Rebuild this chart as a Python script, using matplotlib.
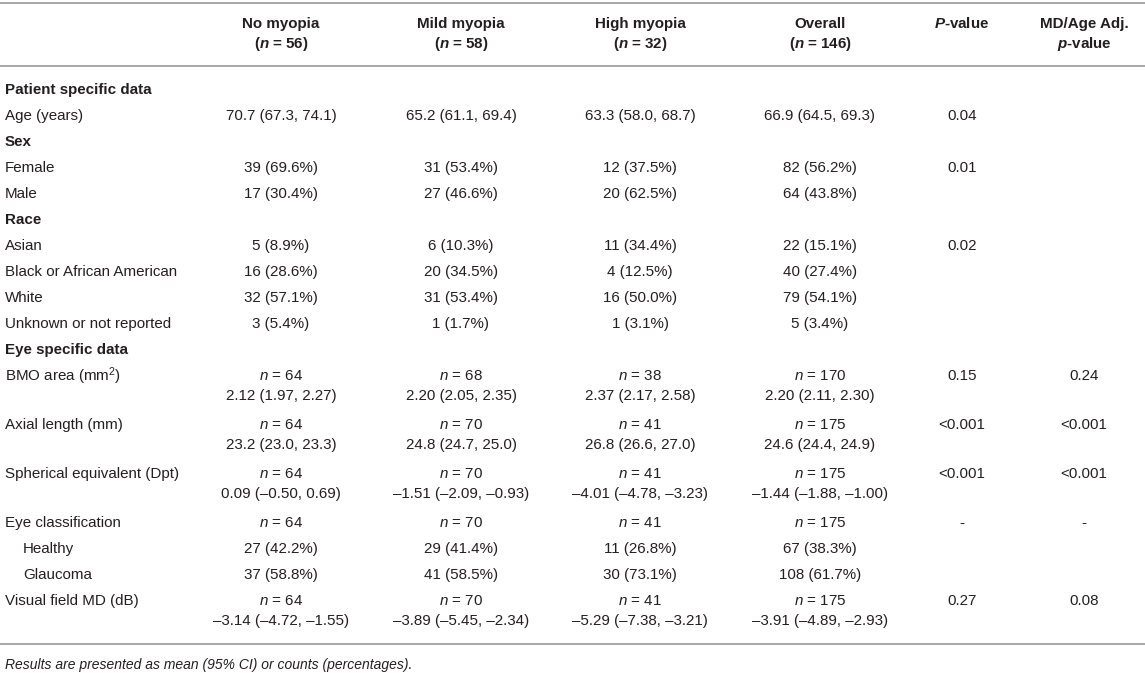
import matplotlib
matplotlib.use("Agg")
import matplotlib.pyplot as plt

plt.rcParams['font.family'] = ['Liberation Sans', 'DejaVu Sans']
plt.rcParams['mathtext.fontset'] = 'custom'
plt.rcParams['mathtext.rm'] = 'Liberation Sans'
plt.rcParams['mathtext.it'] = 'Liberation Sans:italic'
plt.rcParams['mathtext.bf'] = 'Liberation Sans:bold'
plt.rcParams['mathtext.bfit'] = 'Liberation Sans:bold:italic'

# --- table data ---
groups = ["No myopia", "Mild myopia", "High myopia", "Overall"]
group_n = [56, 58, 32, 146]

row_labels = ["Patient specific data", "Age (years)", "Sex", "Female", "Male",
              "Race", "Asian", "Black or African American", "White",
              "Unknown or not reported", "Eye specific data",
              "BMO area (mm$^2$)", "Axial length (mm)",
              "Spherical equivalent (Dpt)", "Eye classification",
              "Healthy", "Glaucoma", "Visual field MD (dB)"]
# head = bold section, item = plain, sub = indented, double = n + value line
row_kind = ["head", "item", "head", "item", "item", "head", "item", "item",
            "item", "item", "head", "double", "double", "double", "item",
            "sub", "sub", "double"]

no_myopia = ["", "70.7 (67.3, 74.1)", "", "39 (69.6%)", "17 (30.4%)", "",
             "5 (8.9%)", "16 (28.6%)", "32 (57.1%)", "3 (5.4%)", "",
             "2.12 (1.97, 2.27)", "23.2 (23.0, 23.3)", "0.09 (–0.50, 0.69)",
             "", "27 (42.2%)", "37 (58.8%)", "–3.14 (–4.72, –1.55)"]
mild_myopia = ["", "65.2 (61.1, 69.4)", "", "31 (53.4%)", "27 (46.6%)", "",
               "6 (10.3%)", "20 (34.5%)", "31 (53.4%)", "1 (1.7%)", "",
               "2.20 (2.05, 2.35)", "24.8 (24.7, 25.0)", "–1.51 (–2.09, –0.93)",
               "", "29 (41.4%)", "41 (58.5%)", "–3.89 (–5.45, –2.34)"]
high_myopia = ["", "63.3 (58.0, 68.7)", "", "12 (37.5%)", "20 (62.5%)", "",
               "11 (34.4%)", "4 (12.5%)", "16 (50.0%)", "1 (3.1%)", "",
               "2.37 (2.17, 2.58)", "26.8 (26.6, 27.0)", "–4.01 (–4.78, –3.23)",
               "", "11 (26.8%)", "30 (73.1%)", "–5.29 (–7.38, –3.21)"]
overall = ["", "66.9 (64.5, 69.3)", "", "82 (56.2%)", "64 (43.8%)", "",
           "22 (15.1%)", "40 (27.4%)", "79 (54.1%)", "5 (3.4%)", "",
           "2.20 (2.11, 2.30)", "24.6 (24.4, 24.9)", "–1.44 (–1.88, –1.00)",
           "", "67 (38.3%)", "108 (61.7%)", "–3.91 (–4.89, –2.93)"]

# eye counts per row (n = ...), None where not shown
n_no = [None] * 11 + [64, 64, 64, 64, None, None, 64]
n_mild = [None] * 11 + [68, 70, 70, 70, None, None, 70]
n_high = [None] * 11 + [38, 41, 41, 41, None, None, 41]
n_overall = [None] * 11 + [170, 175, 175, 175, None, None, 175]

p_value = ["", "0.04", "", "0.01", "", "", "0.02", "", "", "", "",
           "0.15", "<0.001", "<0.001", "-", "", "", "0.27"]
adj_p_value = ["", "", "", "", "", "", "", "", "", "", "",
               "0.24", "<0.001", "<0.001", "-", "", "", "0.08"]

footnote = "Results are presented as mean (95% CI) or counts (percentages)."

# --- layout ---
W, H = 1145, 673
fig = plt.figure(figsize=(W / 100, H / 100), dpi=100)
ax = fig.add_axes([0, 0, 1, 1])
ax.set_xlim(0, W)
ax.set_ylim(H, 0)
ax.axis('off')

txt_color = '#231f20'
rule_color = '#a7a7a7'
fs = 10.9

col_x = [281, 461, 640, 820, 962, 1084]
label_x = 5

for y in (3, 66, 644):
    ax.plot([0, W], [y, y], color=rule_color, lw=1.4, solid_capstyle='butt')

# header
for x, g, n in zip(col_x, groups, group_n):
    ax.text(x, 24, g, ha='center', va='center', fontsize=fs,
            fontweight='bold', color=txt_color)
    ax.text(x, 44, "($\\mathbfit{n}$ = %d)" % n, ha='center', va='center',
            fontsize=fs, fontweight='bold', color=txt_color)
ax.text(col_x[4], 24, "$\\mathbfit{P}$-value", ha='center', va='center',
        fontsize=fs, fontweight='bold', color=txt_color)
ax.text(col_x[5], 24, "MD/Age Adj.", ha='center', va='center',
        fontsize=fs, fontweight='bold', color=txt_color)
ax.text(col_x[5], 44, "$\\mathbfit{p}$-value", ha='center', va='center',
        fontsize=fs, fontweight='bold', color=txt_color)

# body
cols = [no_myopia, mild_myopia, high_myopia, overall]
ncols = [n_no, n_mild, n_high, n_overall]
y = 90
for i, (label, kind) in enumerate(zip(row_labels, row_kind)):
    lx = label_x + 18 if kind == 'sub' else label_x
    ax.text(lx, y, label, ha='left', va='center', fontsize=fs,
            fontweight='bold' if kind == 'head' else 'normal', color=txt_color)
    if ncols[0][i] is not None:
        for x, nc in zip(col_x, ncols):
            ax.text(x, y, "$\\mathit{n}$ = %d" % nc[i], ha='center',
                    va='center', fontsize=fs, color=txt_color)
        y2 = y + 20
    else:
        y2 = y
    for x, c in zip(col_x, cols):
        if c[i]:
            ax.text(x, y2, c[i], ha='center', va='center', fontsize=fs,
                    color=txt_color)
    ax.text(col_x[4], y, p_value[i], ha='center', va='center', fontsize=fs,
            color=txt_color)
    ax.text(col_x[5], y, adj_p_value[i], ha='center', va='center',
            fontsize=fs, color=txt_color)
    y += 49 if kind == 'double' else 26

ax.text(label_x, 665, footnote, ha='left', va='center', fontsize=10,
        style='italic', color=txt_color)

fig.savefig("out.png", dpi=100)
